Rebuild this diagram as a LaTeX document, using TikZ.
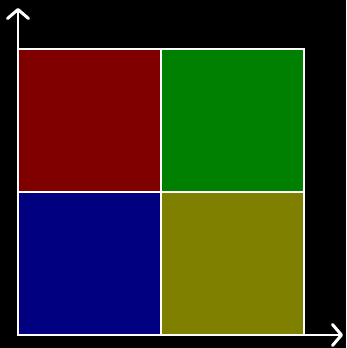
\documentclass[tikz,border=0pt]{standalone}
\usetikzlibrary{arrows.meta}
\definecolor{cred}{RGB}{128,0,0}
\definecolor{cgreen}{RGB}{0,128,0}
\definecolor{cblue}{RGB}{0,0,128}
\definecolor{colive}{RGB}{128,128,0}
\tikzset{
  cell/.style={draw=white, line width=2pt},
  axis/.style={draw=white, line width=2.5pt, line cap=round, -{Straight Barb[length=9pt,width=21pt,line width=3pt,round]}}
}
\begin{document}
\begin{tikzpicture}[x=1pt,y=-1pt]
\fill[black] (0,0) rectangle (346,348);
\useasboundingbox (0,0) rectangle (346,348);
\path[cell, fill=cred] (18,49) rectangle (161,192);
\path[cell, fill=cgreen] (161,49) rectangle (304,192);
\path[cell, fill=cblue] (18,192) rectangle (161,335);
\path[cell, fill=colive] (161,192) rectangle (304,335);
\coordinate (o) at (18,335);
\coordinate (ytip) at (18,8);
\coordinate (xtip) at (343,335);
\draw[axis] (o) -- (ytip);
\draw[axis] (o) -- (xtip);
\end{tikzpicture}
\end{document}
